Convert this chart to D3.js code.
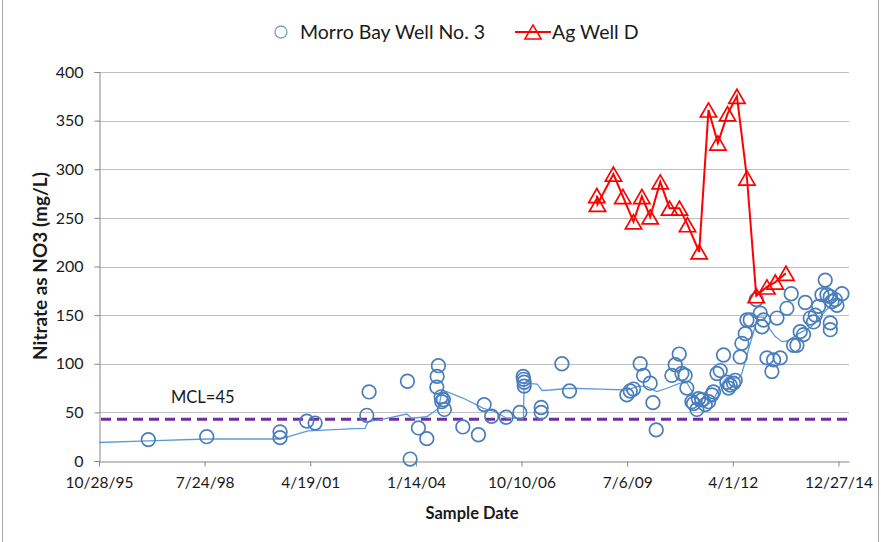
<!DOCTYPE html>
<html>
<head>
<meta charset="utf-8">
<script src="https://cdn.jsdelivr.net/npm/d3@7/dist/d3.min.js"></script>
<style>
  html, body { margin: 0; padding: 0; background: #fff; }
  svg { display: block; font-family: Lato, "Open Sans", sans-serif; }
</style>
</head>
<body>
<svg id="chart" width="881" height="542"></svg>
<script>
// ---- Data (dates as Excel serial day numbers, values in mg/L) ----
const xTickValues = [35000, 36000, 37000, 38000, 39000, 40000, 41000, 42000];
const yTickValues = [0, 50, 100, 150, 200, 250, 300, 350, 400];

const morroDates = [
  35467, 36020, 36714, 36714, 36967, 37046, 37535, 37557, 37920, 37945,
  38024, 38103, 38198, 38201, 38213, 38239, 38245, 38260, 38270, 38444,
  38592, 38646, 38717, 38854, 38984, 39015, 39020, 39025, 39025, 39186,
  39186, 39382, 39454,
  39997, 40029, 40060, 40123, 40155, 40218, 40244, 40275, 40423, 40455,
  40493, 40518, 40549, 40565, 40613, 40628, 40660, 40675, 40708, 40739,
  40770, 40802, 40817, 40850, 40881, 40912, 40944, 40960, 40976, 41007,
  41023, 41070, 41086, 41118, 41134, 41165, 41222, 41260, 41276, 41291,
  41323, 41370, 41386, 41418, 41449, 41512, 41553, 41575, 41607, 41638,
  41670, 41686, 41733, 41764, 41781, 41812, 41844, 41875, 41891, 41923,
  41923, 41923, 41939, 41970, 41986, 42033
];
const morroValues = [
  22, 25, 30, 24, 41, 39, 47, 71, 82, 2,
  34, 23, 76, 87, 98, 66, 61, 63, 53, 35,
  27, 58, 46, 45, 50, 87, 84, 81, 77, 55,
  50, 100, 72,
  68, 72, 74, 100, 88, 80, 60, 32, 88, 99,
  110, 90, 88, 75, 61, 59, 53, 64, 63, 58,
  61, 68, 71, 90, 93, 109, 81, 75, 78, 80,
  83, 107, 121, 131, 145, 145, 166, 152, 138, 145,
  106, 92, 104, 147, 106, 157, 172, 119, 119, 133,
  130, 163, 147, 143, 150, 159, 171, 186, 171, 169,
  142, 135, 164, 166, 160, 172
];

// Light-blue trend line of Morro Bay Well No. 3
const trendDates = [
  35000, 35464, 36020, 36714, 36809, 36979, 37377, 37519, 37547, 37689,
  37914, 37961, 38103, 38213, 38245, 38293, 38450, 38639, 38734, 38861,
  39018, 39025, 39148, 39195, 39271, 39460, 39744, 39997, 40107, 40187,
  40281, 40376, 40502, 40565, 40628, 40644, 40692, 40739, 40817, 40881,
  40944, 41055, 41086, 41165, 41212, 41231, 41291, 41354, 41402, 41465,
  41520, 41622, 41743, 41844, 41939, 41986
];
const trendValues = [
  19, 20.6, 22.6, 22.6, 25.7, 31, 33, 33.6, 40.4, 43,
  48.3, 44, 45.5, 54, 70.4, 71.3, 64.5, 54.2, 51.4, 44,
  44, 80, 79, 72.5, 73, 74.8, 74, 73, 77, 76.4,
  71.3, 74.8, 80, 80.5, 69, 61, 57.6, 56, 62.7, 77,
  86, 85, 90, 121, 138, 148, 148, 135, 128, 122.7,
  123.4, 131, 138, 150, 162, 167
];

const agDates = [
  39713, 39719, 39870, 39959, 40060, 40139, 40218, 40313, 40401, 40495,
  40571, 40682, 40770, 40859, 40950, 41039, 41134, 41222, 41323, 41402,
  41503
];
const agValues = [
  273, 264, 295, 272, 246, 272, 251, 287, 260, 260,
  243, 215, 361, 327, 357, 375, 291, 170, 179, 184,
  193
];

const mclValue = 43;
const mclLabel = "MCL=45";
const seriesNames = ["Morro Bay Well No. 3", "Ag Well D"];
const xTitle = "Sample Date";
const yTitle = "Nitrate as NO3 (mg/L)";

// ---- Drawing ----
const svg = d3.select("#chart");
const pLeft = 99, pRight = 849, pTop = 72, pBottom = 461;

const x = d3.scaleLinear().domain([35000, 42100]).range([pLeft, pRight]);
const y = d3.scaleLinear().domain([0, 400]).range([pBottom, pTop]);

const serialToDate = s => new Date(Date.UTC(1899, 11, 30) + s * 86400000);
const fmt = s => {
  const d = serialToDate(s);
  return (d.getUTCMonth() + 1) + "/" + d.getUTCDate() + "/" + String(d.getUTCFullYear()).slice(2);
};

// chart frame
svg.append("rect").attr("x", 2.5).attr("y", -1).attr("width", 876).attr("height", 544)
  .attr("fill", "none").attr("stroke", "#a6a6a6").attr("stroke-width", 1);

// gridlines
svg.append("g").selectAll("line").data(yTickValues.filter(v => v > 0)).join("line")
  .attr("x1", pLeft).attr("x2", pRight)
  .attr("y1", d => Math.round(y(d)) + 0.5).attr("y2", d => Math.round(y(d)) + 0.5)
  .attr("stroke", "#bfbfbf").attr("stroke-width", 1);

// y axis
const yAxis = d3.axisLeft(y).tickValues(yTickValues).tickSize(5).tickPadding(11).tickFormat(d3.format("d"));
const gy = svg.append("g").attr("transform", `translate(${pLeft + 0.5},0)`).call(yAxis);
gy.select(".domain").attr("stroke", "#868686");
gy.selectAll(".tick line").attr("stroke", "#868686");
gy.selectAll(".tick text").attr("font-size", 16).attr("fill", "#1a1a1a").attr("font-family", "Lato, sans-serif");

// x axis
const xAxis = d3.axisBottom(x).tickValues(xTickValues).tickSize(5).tickPadding(10).tickFormat(fmt).tickSizeOuter(0);
const gx = svg.append("g").attr("transform", `translate(0,${pBottom + 0.5})`).call(xAxis);
gx.select(".domain").attr("stroke", "#868686");
gx.selectAll(".tick line").attr("stroke", "#868686");
gx.selectAll(".tick text").attr("font-size", 15.5).attr("fill", "#1a1a1a").attr("font-family", "Lato, sans-serif");

// axis titles
svg.append("text").attr("x", 472).attr("y", 519).attr("text-anchor", "middle")
  .attr("font-size", 16.5).attr("font-weight", "bold").attr("fill", "#1a1a1a").text(xTitle);
svg.append("text").attr("transform", "translate(47,266) rotate(-90)").attr("text-anchor", "middle")
  .attr("font-size", 19).attr("font-weight", "bold").attr("fill", "#1a1a1a").text(yTitle);

// MCL dashed line and label
svg.append("line").attr("x1", pLeft + 2).attr("x2", pRight - 2)
  .attr("y1", y(mclValue)).attr("y2", y(mclValue))
  .attr("stroke", "#7030a0").attr("stroke-width", 3).attr("stroke-dasharray", "10,6");
svg.append("text").attr("x", 171).attr("y", 403).attr("font-size", 16.5).attr("fill", "#1a1a1a").text(mclLabel);

// Morro Bay trend line
const trend = trendDates.map((d, i) => [d, trendValues[i]]);
svg.append("path").datum(trend)
  .attr("d", d3.line().x(d => x(d[0])).y(d => y(d[1])))
  .attr("fill", "none").attr("stroke", "#5b9bd5").attr("stroke-width", 1.3);

// Morro Bay points
const morro = morroDates.map((d, i) => [d, morroValues[i]]);
svg.append("g").selectAll("circle").data(morro).join("circle")
  .attr("cx", d => x(d[0])).attr("cy", d => y(d[1])).attr("r", 6.8)
  .attr("fill", "none").attr("stroke", "#4a7ebb").attr("stroke-width", 1.7);

// Ag Well D
const ag = agDates.map((d, i) => [d, agValues[i]]);
svg.append("path").datum(ag)
  .attr("d", d3.line().x(d => x(d[0])).y(d => y(d[1])))
  .attr("fill", "none").attr("stroke", "#ff0000").attr("stroke-width", 2);
const tri = d3.symbol().type(d3.symbolTriangle).size(115);
// Excel centres markers on their bounding box; shift the centroid-centred symbol accordingly
const triShift = Math.sqrt(115 * 4 / Math.sqrt(3)) * Math.sqrt(3) / 2 / 6;
svg.append("g").selectAll("path").data(ag).join("path")
  .attr("transform", d => `translate(${x(d[0])},${y(d[1]) + triShift})`)
  .attr("d", tri)
  .attr("fill", "none").attr("stroke", "#ff0000").attr("stroke-width", 1.7);

// legend
const lg = svg.append("g");
lg.append("circle").attr("cx", 281).attr("cy", 32).attr("r", 6)
  .attr("fill", "none").attr("stroke", "#7f9fc9").attr("stroke-width", 1.3);
lg.append("text").attr("x", 300).attr("y", 39).attr("font-size", 19.5).attr("fill", "#1a1a1a").text(seriesNames[0]);
lg.append("line").attr("x1", 515).attr("x2", 551).attr("y1", 32).attr("y2", 32)
  .attr("stroke", "#ff0000").attr("stroke-width", 2);
lg.append("path").attr("transform", `translate(533,${32 + triShift})`).attr("d", tri)
  .attr("fill", "none").attr("stroke", "#ff0000").attr("stroke-width", 1.5);
lg.append("text").attr("x", 552).attr("y", 39).attr("font-size", 19.5).attr("fill", "#1a1a1a").text(seriesNames[1]);
</script>
</body>
</html>
